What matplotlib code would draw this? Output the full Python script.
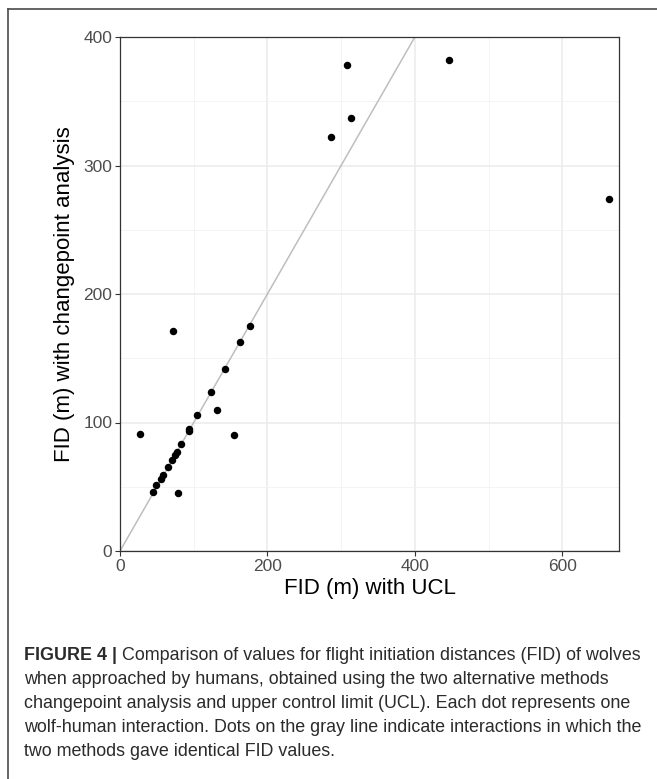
import matplotlib
matplotlib.use("Agg")
import matplotlib.pyplot as plt
from matplotlib.lines import Line2D

# ---- data ----
fid_ucl = [308, 447, 313, 286, 663, 176, 163, 143, 72, 124, 132, 105, 93, 94,
           27, 154, 83, 77, 74, 71, 65, 58, 55, 49, 45, 79]
fid_cp = [378, 382, 337, 322, 274, 175, 163, 142, 171, 124, 110, 106, 95, 93,
          91, 90, 83, 77, 75, 71, 65, 59, 56, 51, 46, 45]
x_ticks = [0, 200, 400, 600]
x_minor = [100, 300, 500]
y_ticks = [0, 100, 200, 300, 400]
y_minor = [50, 150, 250, 350]
identity = [0, 400]

x_label = "FID (m) with UCL"
y_label = "FID (m) with changepoint analysis"
caption_bold = "FIGURE 4 |"
caption_line1 = " Comparison of values for flight initiation distances (FID) of wolves"
caption_rest = [
    "when approached by humans, obtained using the two alternative methods",
    "changepoint analysis and upper control limit (UCL). Each dot represents one",
    "wolf-human interaction. Dots on the gray line indicate interactions in which the",
    "two methods gave identical FID values.",
]

plt.rcParams['font.family'] = ['Liberation Sans', 'DejaVu Sans']

W, H = 657, 779
fig = plt.figure(figsize=(W / 100, H / 100), dpi=100)
fig.patch.set_facecolor("white")

ax = fig.add_axes([120 / W, 1 - 551 / H, (619 - 120) / W, (551 - 37) / H])
ax.set_xlim(0, 677)
ax.set_ylim(0, 400)

# grid
ax.set_xticks(x_ticks)
ax.set_yticks(y_ticks)
ax.set_xticks(x_minor, minor=True)
ax.set_yticks(y_minor, minor=True)
ax.grid(True, which="major", color="#EBEBEB", linewidth=1.1, zorder=0)
ax.grid(True, which="minor", color="#F2F2F2", linewidth=0.6, zorder=0)
ax.set_axisbelow(True)
ax.tick_params(which="minor", length=0)
ax.tick_params(which="major", length=3.5, width=0.8, color="#333333",
               labelsize=12.5, labelcolor="#4D4D4D", pad=2)

for s in ax.spines.values():
    s.set_color("#333333")
    s.set_linewidth(0.9)

ax.plot(identity, identity, color="#BEBEBE", linewidth=1.1, zorder=2,
        solid_capstyle="butt")
ax.scatter(fid_ucl, fid_cp, s=29, color="black", zorder=3, linewidths=0)

ax.set_xlabel(x_label, fontsize=16, color="black", labelpad=3)
ax.set_ylabel(y_label, fontsize=16, color="black", labelpad=6)

# outer frame (top and left edges visible)
fig.add_artist(Line2D([8 / W, 1.0], [1 - 9 / H, 1 - 9 / H],
                      transform=fig.transFigure, color="#4A4A4A", linewidth=1.2))
fig.add_artist(Line2D([8 / W, 8 / W], [1 - 9 / H, 0.0],
                      transform=fig.transFigure, color="#4A4A4A", linewidth=1.2))

# caption
cap_size = 12.9
cap_color = "#2B2B2B"
y0 = 656
spacing = 24
tb = fig.text(24 / W, 1 - y0 / H, caption_bold, fontsize=cap_size,
              fontweight="bold", color=cap_color, va="center", ha="left")
ax.annotate(caption_line1, xy=(1, 0.5), xycoords=tb, va="center", ha="left",
            fontsize=cap_size, color=cap_color, annotation_clip=False)
for i, line in enumerate(caption_rest):
    fig.text(24 / W, 1 - (y0 + spacing * (i + 1)) / H, line, fontsize=cap_size,
             color=cap_color, va="center", ha="left")

fig.savefig("out.png", dpi=100, facecolor="white")
